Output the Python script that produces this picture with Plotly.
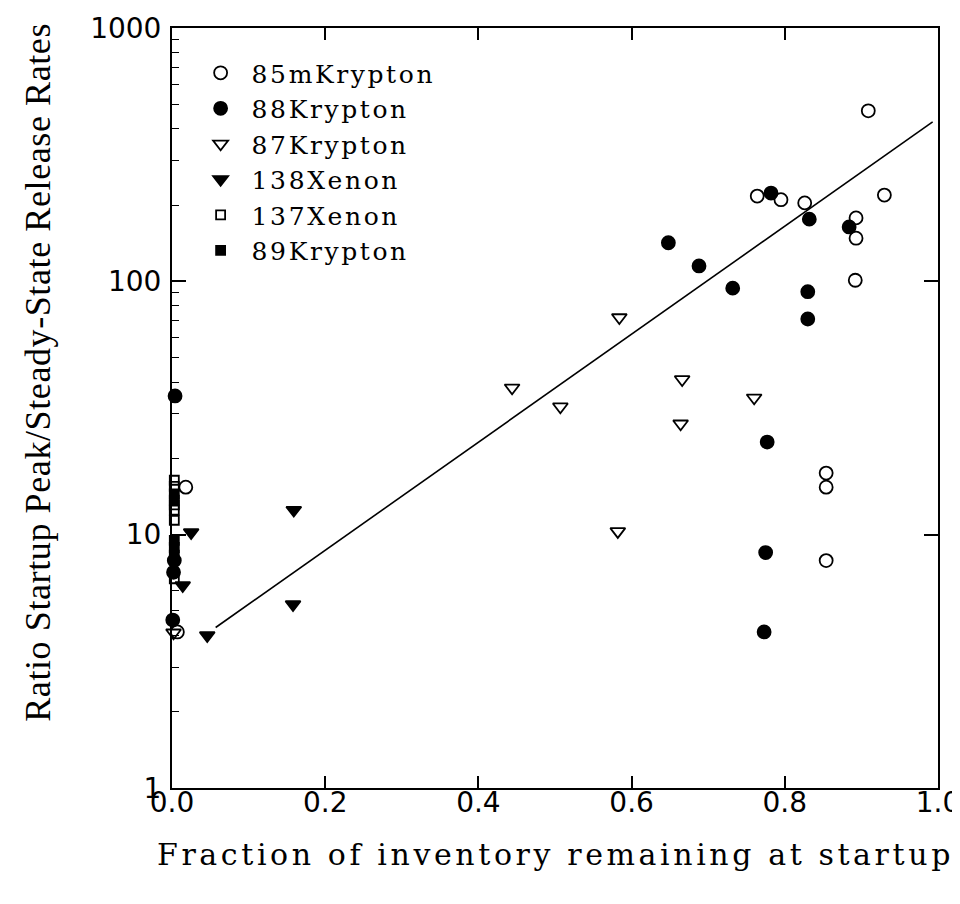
import plotly.graph_objects as go

# ---- data ----
kr85m_x = [0.909, 0.764, 0.795, 0.826, 0.930, 0.893, 0.893, 0.892, 0.854, 0.854, 0.854, 0.018, 0.007]
kr85m_y = [471, 217, 210, 204, 219, 178, 148, 101, 17.5, 15.4, 7.9, 15.4, 4.13]

kr88_x = [0.648, 0.688, 0.732, 0.782, 0.832, 0.884, 0.830, 0.830, 0.777, 0.775, 0.773, 0.004, 0.003, 0.002, 0.001]
kr88_y = [142, 115, 94, 223, 176, 164, 91, 71, 23.2, 8.5, 4.13, 35.3, 7.9, 7.1, 4.6]

kr87_x = [0.584, 0.444, 0.507, 0.582, 0.666, 0.760, 0.664, 0.002]
kr87_y = [72, 38, 32, 10.3, 41, 34.7, 27.4, 4.1]

xe138_x = [0.159, 0.158, 0.046, 0.025, 0.014]
xe138_y = [12.5, 5.3, 4.0, 10.2, 6.3]

xe137_x = [0.003, 0.003, 0.003, 0.003, 0.003, 0.003]
xe137_y = [16.4, 15.5, 13.1, 12.5, 11.4, 6.7]

kr89_x = [0.003, 0.003, 0.003, 0.003, 0.003]
kr89_y = [14.5, 13.7, 9.5, 8.9, 8.3]

fit_x = [0.057, 0.993]
fit_y = [4.3, 426]

x_ticks = [0.0, 0.2, 0.4, 0.6, 0.8, 1.0]
x_ticklabels = ["0.0", "0.2", "0.4", "0.6", "0.8", "1.0"]
y_ticks = [1, 10, 100, 1000]
y_ticklabels = ["1", "10", "100", "1000"]

series = [
    ("85mKrypton", kr85m_x, kr85m_y, "circle-open", 13),
    ("88Krypton", kr88_x, kr88_y, "circle", 13),
    ("87Krypton", kr87_x, kr87_y, "triangle-down-open", 13),
    ("138Xenon", xe138_x, xe138_y, "triangle-down", 13),
    ("137Xenon", xe137_x, xe137_y, "square-open", 9),
    ("89Krypton", kr89_x, kr89_y, "square", 9),
]


def spaced(s, px):
    return f'<span style="letter-spacing:{px}px">{s}</span>'


fig = go.Figure()
for name, xs, ys, sym, sz in series:
    fig.add_trace(go.Scatter(
        x=xs, y=ys, mode="markers", name=spaced(name, 2.6),
        marker=dict(symbol=sym, size=sz, color="black",
                    line=dict(color="black", width=1.8)),
        cliponaxis=False,
    ))

fig.add_trace(go.Scatter(x=fit_x, y=fit_y, mode="lines", showlegend=False,
                         line=dict(color="black", width=1.6)))

# invisible trace carrying the mirrored (right/top) major-tick axes
fig.add_trace(go.Scatter(x=[None], y=[None], xaxis="x2", yaxis="y2",
                         showlegend=False, hoverinfo="skip"))

fig.update_layout(
    width=952, height=896,
    margin=dict(l=164, r=22, t=20, b=116),
    paper_bgcolor="white", plot_bgcolor="white",
    font=dict(family="DejaVu Serif", color="black"),
    showlegend=True,
    legend=dict(x=0.023, y=0.971, xanchor="left", yanchor="top",
                bgcolor="rgba(0,0,0,0)", borderwidth=0,
                font=dict(family="DejaVu Serif", size=25, color="black"),
                itemwidth=52, tracegroupgap=0),
    xaxis2=dict(overlaying="x", side="top", range=[0, 1], tickvals=x_ticks,
                showticklabels=False, ticks="inside", ticklen=12, tickwidth=1.5,
                tickcolor="black", showgrid=False, zeroline=False, showline=False,
                automargin=False),
    yaxis2=dict(overlaying="y", side="right", type="log", range=[0, 3], tickvals=y_ticks,
                showticklabels=False, ticks="inside", ticklen=14, tickwidth=1.5,
                tickcolor="black", showgrid=False, zeroline=False, showline=False,
                automargin=False),
)

fig.update_layout(xaxis=dict(
    range=[0, 1], tickvals=x_ticks, ticktext=x_ticklabels,
    ticks="inside", ticklen=12, tickwidth=1.5, tickcolor="black",
    showline=True, linecolor="black", linewidth=2, mirror=True,
    showgrid=False, zeroline=False, automargin=False,
    tickfont=dict(family="DejaVu Sans", size=28, color="black"),
    ticklabelstandoff=-12, ticklabeloverflow="allow",
))
fig.update_layout(yaxis=dict(
    type="log", range=[0, 3], tickvals=y_ticks, ticktext=y_ticklabels,
    ticks="inside", ticklen=14, tickwidth=1.5, tickcolor="black",
    minor=dict(ticks="inside", ticklen=7, tickwidth=1.2, tickcolor="black", dtick="D1", showgrid=False),
    showline=True, linecolor="black", linewidth=2, mirror=True,
    showgrid=False, zeroline=False, automargin=False,
    tickfont=dict(family="DejaVu Sans", size=28, color="black"),
    ticklabelstandoff=3, ticklabeloverflow="allow",
))

fig.add_annotation(
    text=spaced("Ratio Startup Peak/Steady-State Release Rates", 0.6),
    xref="paper", yref="paper", x=-0.203, y=0.547, textangle=-90,
    showarrow=False, font=dict(family="Liberation Serif", size=36, color="black"),
)
fig.add_annotation(
    text=spaced("Fraction of inventory remaining at startup", 3.6),
    xref="paper", yref="paper", x=0.5, y=-0.088, yanchor="middle",
    showarrow=False, font=dict(family="DejaVu Serif", size=30, color="black"),
)

fig.write_html("out.html")
